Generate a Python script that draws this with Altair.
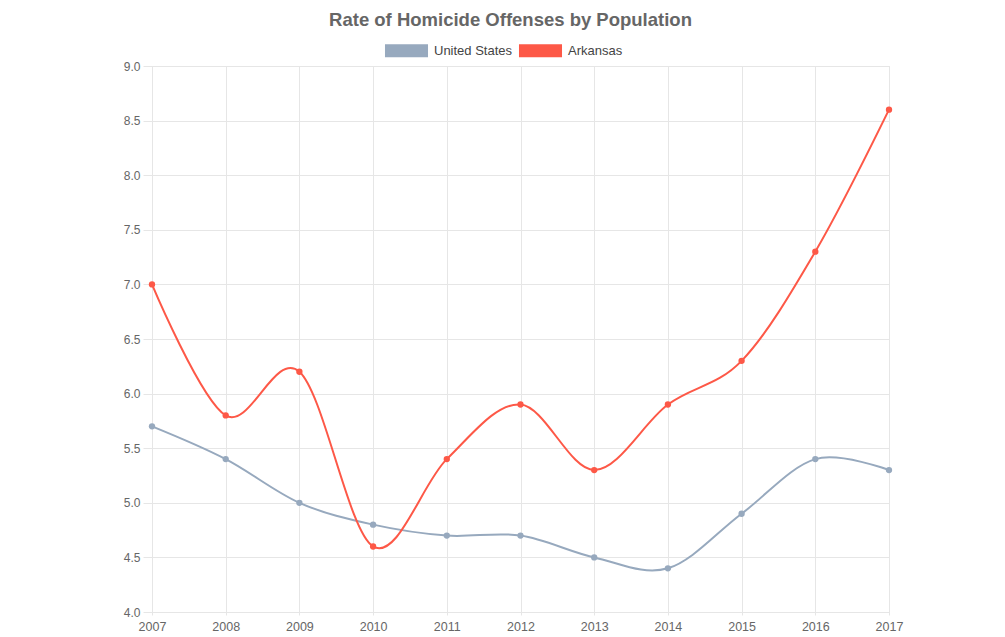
import altair as alt
import pandas as pd

years = [2007, 2008, 2009, 2010, 2011, 2012, 2013, 2014, 2015, 2016, 2017]
us_rate = [5.7, 5.4, 5.0, 4.8, 4.7, 4.7, 4.5, 4.4, 4.9, 5.4, 5.3]
ar_rate = [7.0, 5.8, 6.2, 4.6, 5.4, 5.9, 5.3, 5.9, 6.3, 7.3, 8.6]
series_names = ["United States", "Arkansas"]
series_colors = ["#97a9be", "#fd5847"]
y_ticks = [4.0, 4.5, 5.0, 5.5, 6.0, 6.5, 7.0, 7.5, 8.0, 8.5, 9.0]

rows = []
for y, v in zip(years, us_rate):
    rows.append({"year": y, "rate": v, "series": "United States"})
for y, v in zip(years, ar_rate):
    rows.append({"year": y, "rate": v, "series": "Arkansas"})
df = pd.DataFrame(rows)

FONT = "Liberation Sans"

color = alt.Color(
    "series:N",
    scale=alt.Scale(domain=series_names, range=series_colors),
    sort=series_names,
    legend=alt.Legend(
        title=None,
        orient="none",
        direction="horizontal",
        legendX=248,
        legendY=-22,
        symbolType="M-3.31,-1L3.31,-1L3.31,1L-3.31,1Z",
        symbolSize=169,
        symbolStrokeWidth=0,
        symbolOpacity=1,
        labelFont=FONT,
        labelFontSize=13,
        labelColor="#444444",
        labelOffset=21,
        columnPadding=5,
    ),
)

x = alt.X(
    "year:Q",
    scale=alt.Scale(domain=[2007, 2017], nice=False, zero=False),
    axis=alt.Axis(
        title=None,
        values=years,
        format="d",
        labelFont=FONT,
        labelFontSize=12.5,
        labelColor="#666666",
        gridColor="#e6e6e6",
        domainColor="#e6e6e6",
        tickColor="#e6e6e6",
        tickSize=3,
        labelPadding=5,
        labelFlush=False,
    ),
)
y = alt.Y(
    "rate:Q",
    scale=alt.Scale(domain=[4.0, 9.0], nice=False, zero=False),
    axis=alt.Axis(
        title=None,
        values=y_ticks,
        format=".1f",
        labelFont=FONT,
        labelFontSize=12,
        labelColor="#666666",
        gridColor="#e6e6e6",
        domainColor="#e6e6e6",
        tickColor="#e6e6e6",
        tickSize=9,
        labelPadding=3,
    ),
)

base = alt.Chart(df)
lines = base.mark_line(interpolate="cardinal", tension=0, strokeWidth=2).encode(
    x=x, y=y, color=color, detail="series:N"
)
points = base.mark_circle(size=40, opacity=1).encode(
    x=x, y=y, color=alt.Color("series:N", scale=alt.Scale(domain=series_names, range=series_colors), legend=None)
)

chart = (
    alt.layer(lines, points)
    .properties(
        width=737,
        height=546,
        autosize=alt.AutoSizeParams(type="none"),
        padding={"left": 144, "top": 58, "right": 100, "bottom": 25},
        title=alt.TitleParams(
            "Rate of Homicide Offenses by Population",
            font=FONT,
            fontSize=18.5,
            fontWeight="bold",
            color="#666666",
            anchor="middle",
            dx=-10,
            offset=15,
        ),
    )
    .configure_view(stroke=None)
    .configure(background="white")
)

chart.save("out.html", embed_options={"renderer": "svg", "actions": False})
